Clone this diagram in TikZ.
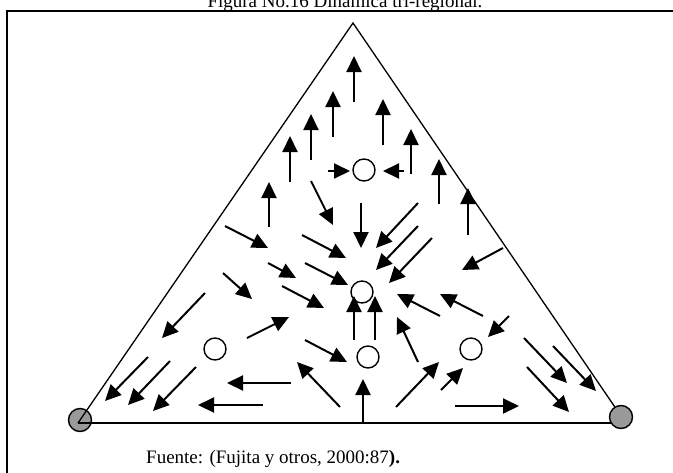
\documentclass[tikz,border=0pt]{standalone}
\usepackage{fontspec}
\setmainfont{Liberation Serif}
\usetikzlibrary{arrows.meta}

\begin{document}
\begin{tikzpicture}[x=1pt, y=-1pt,
    flow/.style={line width=2pt, -{Triangle[length=16pt, width=15pt]}},
    eq/.style={circle, draw, line width=1.4pt, fill=white, minimum size=22pt, inner sep=0pt},
    pole/.style={circle, draw, line width=1.4pt, fill=black!40, minimum size=23pt, inner sep=0pt}]
    \useasboundingbox (0,0) rectangle (673,472);

    % frame (runs off the page at right and bottom)
    \draw [line width=2pt] (7,520) -- (7,11) -- (720,11);
    \node [anchor=base, inner sep=0pt, font=\fontsize{19}{22}\selectfont] (title) at (345,7)
      {Figura No.16 Dinámica tri-regional.};

    % simplex
    \node [pole] (r1) at (80,420) {};
    \draw [line width=1.3pt] (78,423) -- (353,23) -- (621,416);
    \draw [line width=2.4pt] (78,423) -- (621,423);
    \node [pole] (r3) at (621,417) {};

    % equilibria
    \node [eq] (top) at (364,170) {};
    \node [eq] (mid) at (362,292) {};
    \node [eq] (low) at (368,357) {};
    \node [eq] (left) at (215,349) {};
    \node [eq] (right) at (471,349) {};

    % flows towards the upper region
    \draw [flow] (354,102) -- (354,56);
    \draw [flow] (333,137) -- (333,91);
    \draw [flow] (383,145) -- (383,99);
    \draw [flow] (311,160) -- (311,114);
    \draw [flow] (290,182) -- (290,136);
    \draw [flow] (411,174) -- (411,129);
    \draw [flow] (439,204) -- (439,159);
    \draw [flow] (269,227) -- (269,182);
    \draw [flow] (468,235) -- (468,188);
    \draw [flow] (328,171) -- (350,171);
    \draw [flow] (404,171) -- (383,171);

    % flows towards the centre
    \draw [flow] (311,181) -- (333,225);
    \draw [flow] (361,203) -- (361,248);
    \draw [flow] (418,203) -- (376,248);
    \draw [flow] (418,226) -- (376,270);
    \draw [flow] (432,238) -- (389,283);
    \draw [flow] (225,226) -- (268,248);
    \draw [flow] (302,235) -- (346,258);
    \draw [flow] (268,263) -- (296,278);
    \draw [flow] (305,263) -- (348,285);
    \draw [flow] (223,273) -- (252,299);
    \draw [flow] (282,286) -- (324,308);
    \draw [flow] (354,340) -- (354,296);
    \draw [flow] (375,340) -- (375,296);
    \draw [flow] (418,362) -- (397,317);
    \draw [flow] (440,316) -- (397,294);
    \draw [flow] (483,316) -- (440,294);
    \draw [flow] (503,248) -- (462,270);
    \draw [flow] (509,316) -- (488,337);

    % lower part
    \draw [flow] (205,293) -- (162,338);
    \draw [flow] (247,338) -- (289,317);
    \draw [flow] (305,340) -- (347,362);
    \draw [flow] (291,383) -- (227,383);
    \draw [flow] (148,357) -- (105,401);
    \draw [flow] (170,361) -- (128,405);
    \draw [flow] (196,367) -- (153,411);
    \draw [flow] (263,405) -- (198,405);
    \draw [flow] (340,407) -- (297,362);
    \draw [flow] (363,423) -- (363,379);
    \draw [flow] (396,407) -- (439,362);
    \draw [flow] (441,390) -- (463,368);
    \draw [flow] (524,338) -- (567,383);
    \draw [flow] (553,346) -- (596,391);
    \draw [flow] (527,367) -- (569,412);
    \draw [flow] (455,406) -- (519,406);

    \node [anchor=base west, inner sep=0pt, font=\fontsize{19}{24}\selectfont] (src) at (146,463)
      {Fuente: (Fujita y otros, 2000:87\textbf{).}};
\end{tikzpicture}
\end{document}
